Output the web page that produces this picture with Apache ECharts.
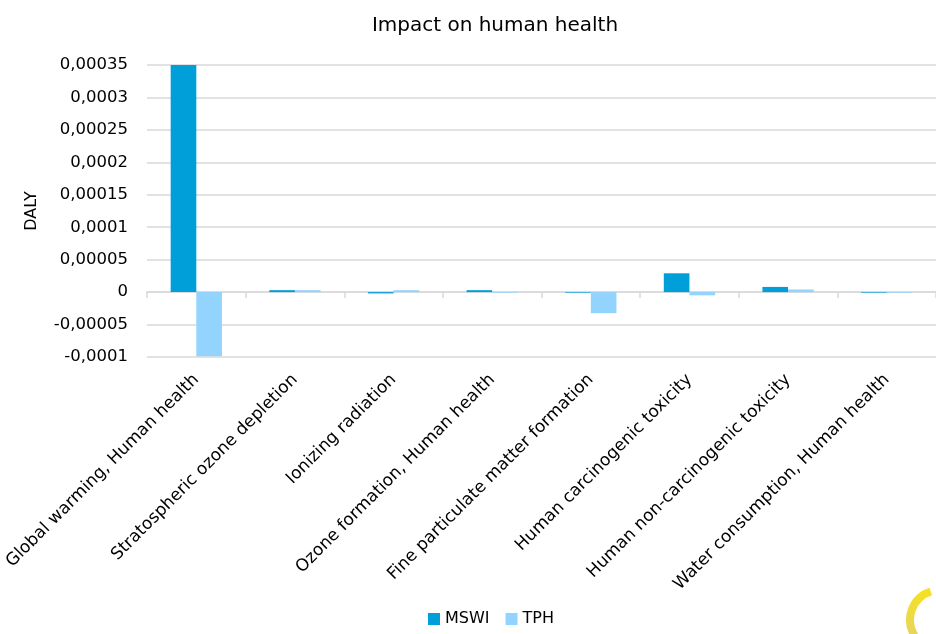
<!DOCTYPE html>
<html lang="en">
<head>
    <meta charset="UTF-8">
    <title>Impact on human health</title>
<script src="https://cdn.jsdelivr.net/npm/echarts@6/dist/echarts.min.js"></script>
<style>
  html, body { margin: 0; padding: 0; background: #fff; }
  #chart { width: 936px; height: 634px; }
</style>
</head>
<body>
<div id="chart"></div>

<script>
  // categories and values (DALY)
  var categories = [
    'Global warming, Human health',
    'Stratospheric ozone depletion',
    'Ionizing radiation',
    'Ozone formation, Human health',
    'Fine particulate matter formation',
    'Human carcinogenic toxicity',
    'Human non-carcinogenic toxicity',
    'Water consumption, Human health'
  ];
  var mswi = [0.000351, 0.000003, -0.000002, 0.000003, -0.000001, 0.000029, 0.000008, -0.000001];
  var tph  = [-0.0000988, 0.000003, 0.000003, -0.000001, -0.0000325, -0.000005, 0.000004, -0.000001];
  var seriesNames = ['MSWI', 'TPH'];

  var fontName = '"DejaVu Sans", sans-serif';

  // 0.00005 -> 0,00005
  function commaLabel(v) {
    if (Math.abs(v) < 1e-12) return '0';
    var s = v.toFixed(5).replace(/0+$/, '').replace(/\.$/, '');
    return s.replace('.', ',');
  }

  var myChart = echarts.init(document.getElementById('chart'));
  var option = {
    animation: false,
    textStyle: { fontFamily: fontName },
    title: {
      text: 'Impact on human health',
      left: 490,
      textAlign: 'center',
      top: 11,
      textStyle: { fontSize: 20, fontWeight: 'normal', color: '#000', fontFamily: fontName }
    },
    legend: {
      data: seriesNames,
      left: 423,
      bottom: 2,
      orient: 'horizontal',
      icon: 'rect',
      itemWidth: 12,
      itemHeight: 12,
      itemGap: 16,
      textStyle: { fontSize: 16, color: '#000', fontFamily: fontName }
    },
    grid: { left: 147, top: 65, bottom: 277, right: -11, containLabel: false },
    xAxis: {
      type: 'category',
      data: categories,
      axisLine: { onZero: true, lineStyle: { color: '#D9D9D9', width: 1.5 } },
      axisTick: { show: true, length: 6, lineStyle: { color: '#D9D9D9', width: 1.5 } },
      axisLabel: {
        rotate: 45,
        interval: 0,
        margin: 20,
        fontSize: 17,
        color: '#000',
        fontFamily: fontName
      },
      splitLine: { show: false }
    },
    yAxis: {
      type: 'value',
      min: -0.0001,
      max: 0.00035,
      interval: 0.00005,
      name: 'DALY',
      nameLocation: 'middle',
      nameGap: 107,
      nameRotate: 90,
      nameTextStyle: { fontSize: 16, color: '#000', fontFamily: fontName },
      axisLine: { show: false },
      axisTick: { show: false },
      axisLabel: { formatter: commaLabel, fontSize: 16.5, color: '#000', margin: 19, fontFamily: fontName },
      splitLine: { lineStyle: { color: '#D9D9D9', width: 1.5 } }
    },
    series: [
      {
        name: seriesNames[0],
        type: 'bar',
        data: mswi,
        barGap: '0%',
        barCategoryGap: '48%',
        itemStyle: { color: '#009FDA' }
      },
      {
        name: seriesNames[1],
        type: 'bar',
        data: tph,
        itemStyle: { color: '#92D4FE' }
      }
    ],
    graphic: [
      {
        type: 'arc',
        shape: { cx: 940, cy: 620, r: 30, startAngle: Math.PI * 0.6, endAngle: Math.PI * 1.4 },
        style: {
          stroke: new echarts.graphic.LinearGradient(0, 0, 0, 1, [
            { offset: 0, color: '#F7E21B' },
            { offset: 1, color: '#E0CF7A' }
          ]),
          lineWidth: 8,
          fill: null
        },
        silent: true
      }
    ]
  };
  myChart.setOption(option);
</script>

</body>
</html>
